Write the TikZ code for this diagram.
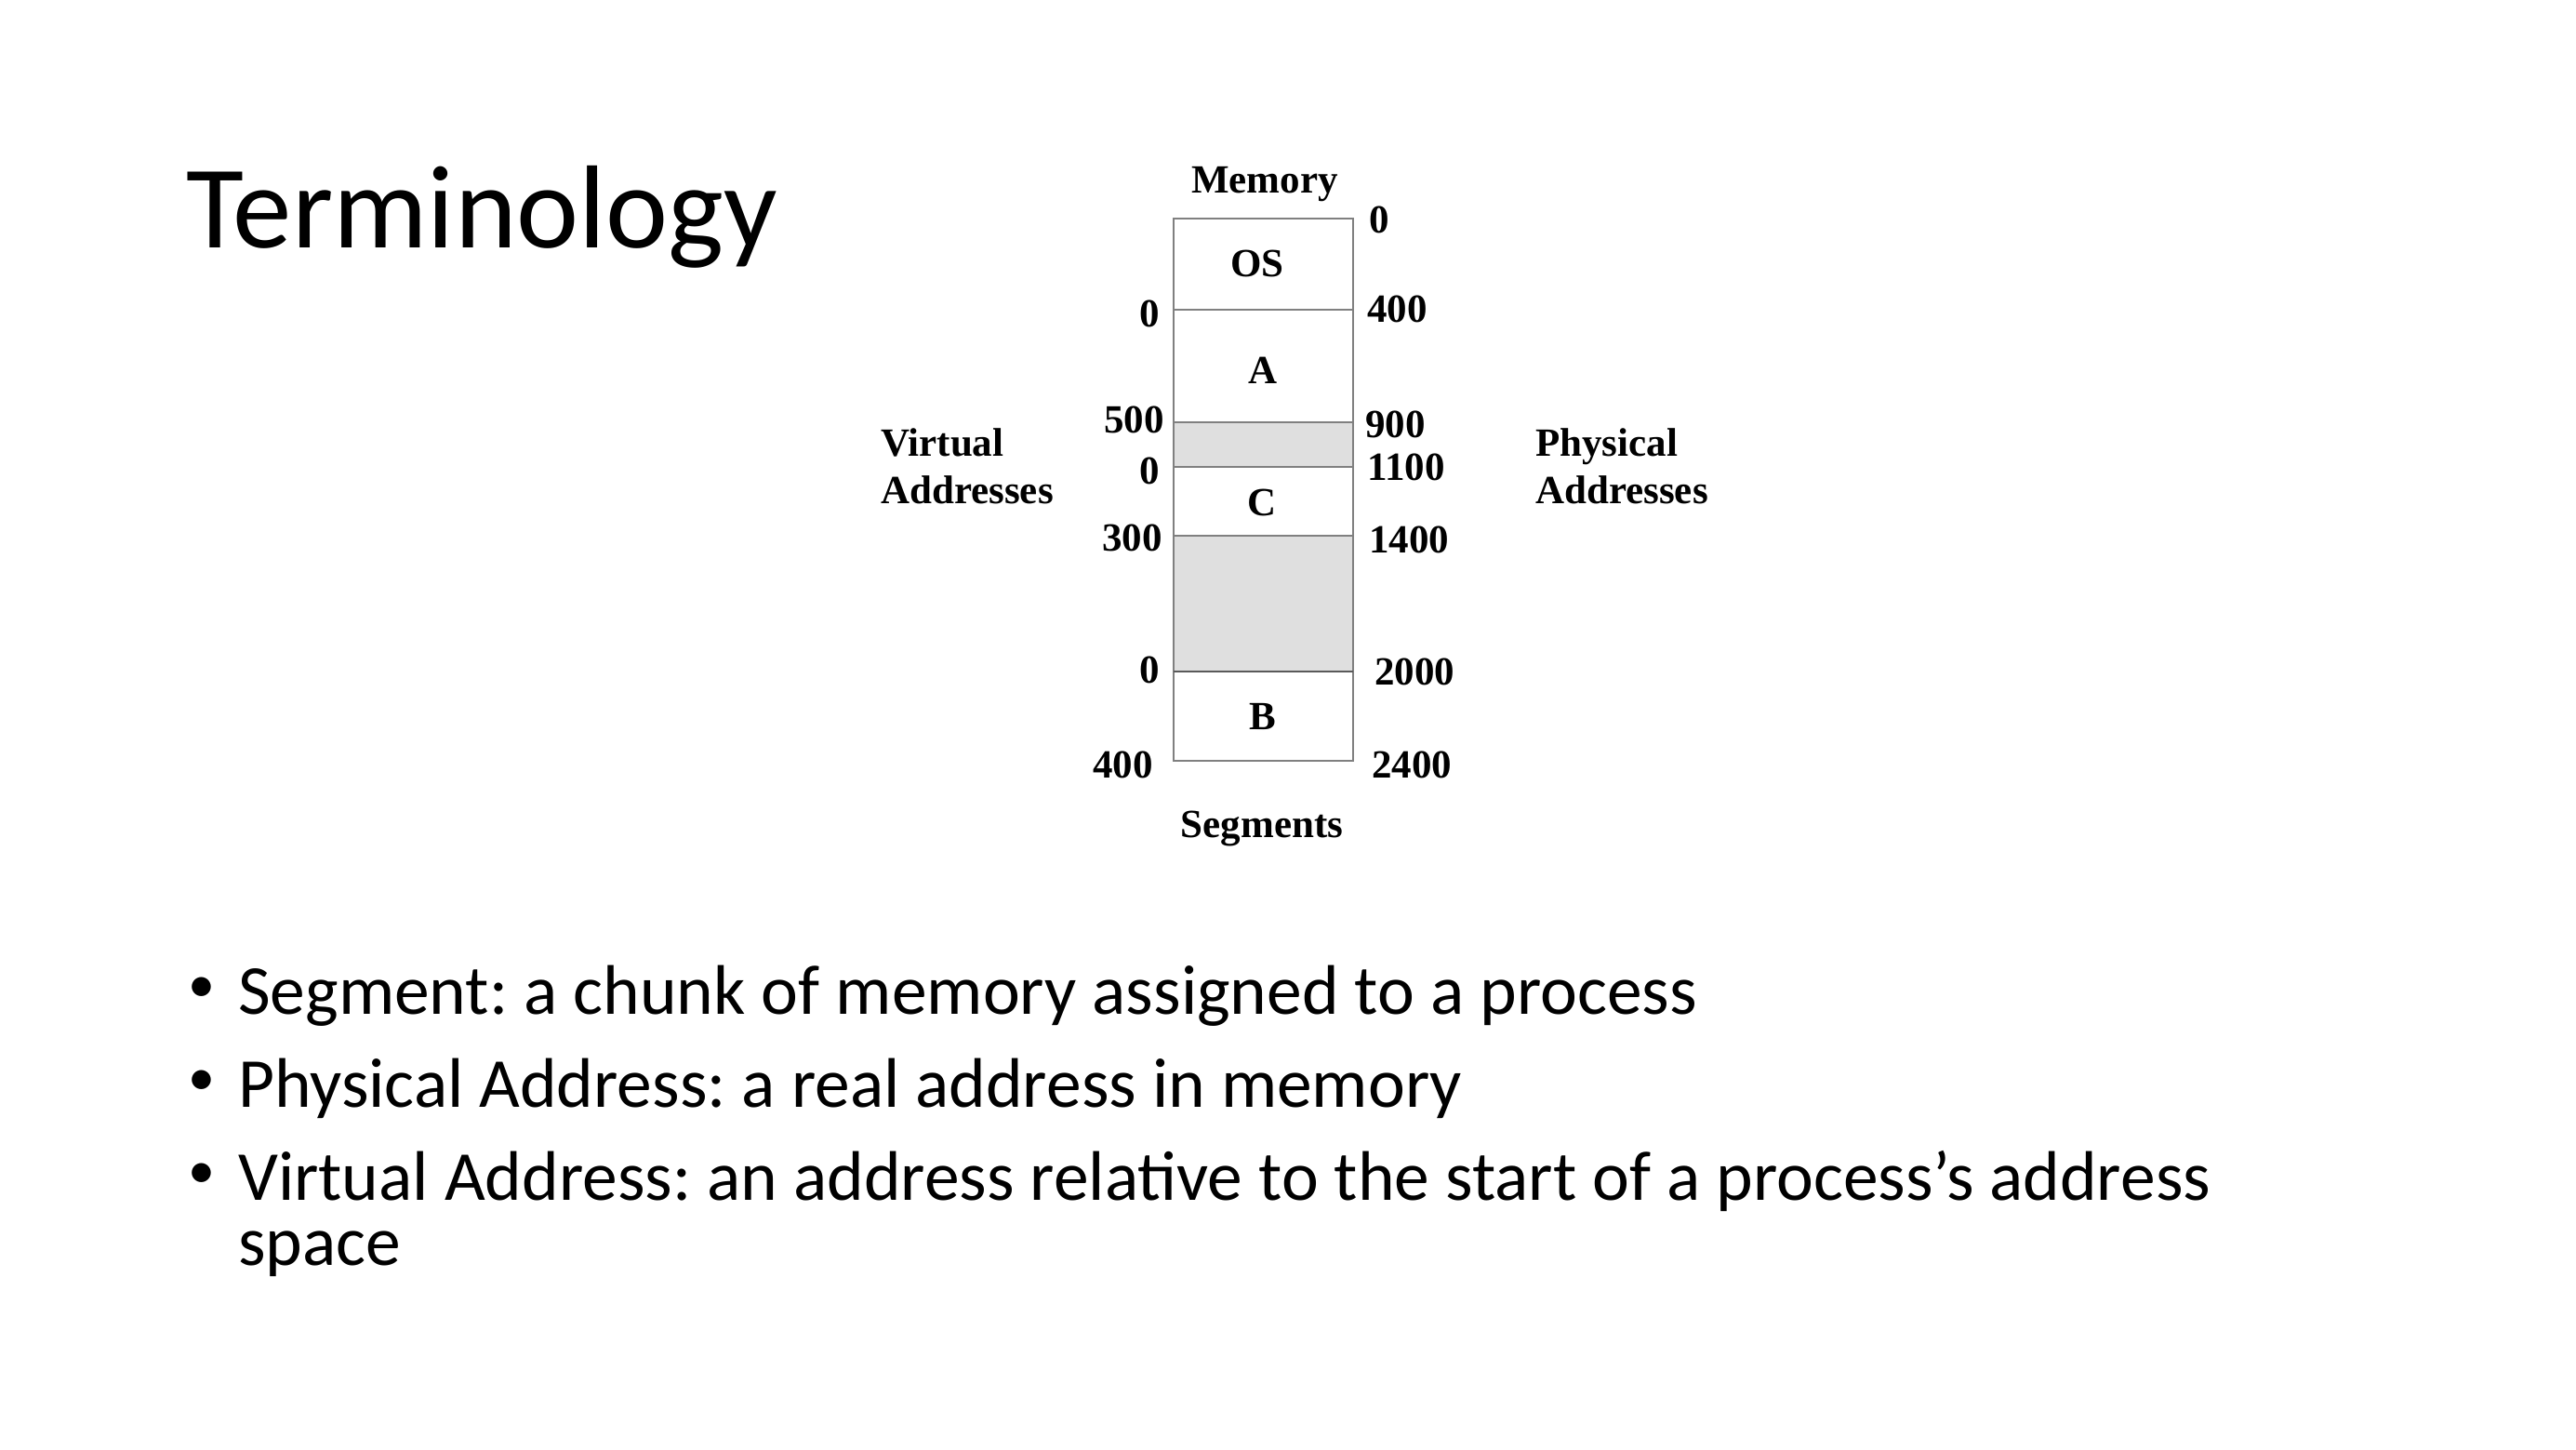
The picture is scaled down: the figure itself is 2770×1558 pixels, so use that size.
\documentclass[tikz,border=0pt]{standalone}
\usepackage{fontspec}
\setmainfont{Liberation Serif}
\newfontfamily\slidefont{Carlito}
\definecolor{segline}{HTML}{808080}
\definecolor{segfill}{HTML}{DFDFDF}
\frenchspacing
\begin{document}
\begin{tikzpicture}[x=1pt,y=-1pt,
  fig/.style={font=\fontsize{43}{52}\selectfont\bfseries, inner sep=0pt},
  lnum/.style={fig, anchor=east},
  rnum/.style={fig, anchor=west},
  seglabel/.style={fig, anchor=center},
  sideline/.style={fig, anchor=base west, align=left},
  titletext/.style={font=\slidefont\fontsize{127}{150}\selectfont, inner sep=0pt, anchor=base west},
  bullettext/.style={font=\slidefont\fontsize{75.5}{72}\selectfont, inner sep=0pt, anchor=base west},
  bulletdot/.style={font=\slidefont\fontsize{58}{60}\selectfont, inner sep=0pt, anchor=center},
  segedge/.style={draw=segline, line width=2.5pt},
  hole/.style={segedge, fill=segfill}
]
\useasboundingbox (0,0) rectangle (2770,1558);
\fill[white] (0,0) rectangle (2770,1558);

% title
\node[titletext] (title) at (200,266.7) {Terminology};

% memory column
\draw[hole] (1262,454) rectangle (1455,502);
\draw[hole] (1262,576) rectangle (1455,722);
\draw[segedge] (1262,235) rectangle (1455,818);
\draw[segedge] (1262,333) -- (1455,333);
\draw[draw=segline!70!black, line width=2.5pt] (1262,722) -- (1455,722);

\node[seglabel] (os) at (1352,283) {OS};
\node[seglabel] (a) at (1358,398) {A};
\node[seglabel] (c) at (1357,540) {C};
\node[seglabel] (b) at (1358,770) {B};

\node[fig, anchor=base] (memory) at (1360,207) {Memory};
\node[fig, anchor=base] (segments) at (1357,900) {Segments};

% left (virtual) numbers
\node[lnum] (v0a) at (1247,337) {0};
\node[lnum] (v500) at (1252,451) {500};
\node[lnum] (v0c) at (1247,506) {0};
\node[lnum] (v300) at (1250,578) {300};
\node[lnum] (v0b) at (1247,720) {0};
\node[lnum] (v400) at (1240,822) {400};

% right (physical) numbers
\node[rnum] (p0) at (1472,236) {0};
\node[rnum] (p400) at (1470,332) {400};
\node[rnum] (p900) at (1468,456) {900};
\node[rnum] (p1100) at (1470,502) {1100};
\node[rnum] (p1400) at (1472,580) {1400};
\node[rnum] (p2000) at (1478,722) {2000};
\node[rnum] (p2400) at (1475,822) {2400};

% side captions
\node[sideline] (virt1) at (947,490) {Virtual};
\node[sideline] (virt2) at (947,541) {Addresses};
\node[sideline] (phys1) at (1651,490) {Physical};
\node[sideline] (phys2) at (1651,541) {Addresses};

% bullets
\node[bulletdot] (d1) at (217,1064) {•};
\node[bulletdot] (d2) at (217,1164) {•};
\node[bulletdot] (d3) at (217,1264) {•};
\node[bullettext] (t1) at (256,1090) {Segment: a chunk of memory assigned to a process};
\node[bullettext] (t2) at (256,1190) {Physical Address: a real address in memory};
\node[bullettext] (t3) at (256,1290) {Virtual Address: an address relative to the start of a process’s address};
\node[bullettext] (t4) at (256,1360) {space};
\end{tikzpicture}
\end{document}
